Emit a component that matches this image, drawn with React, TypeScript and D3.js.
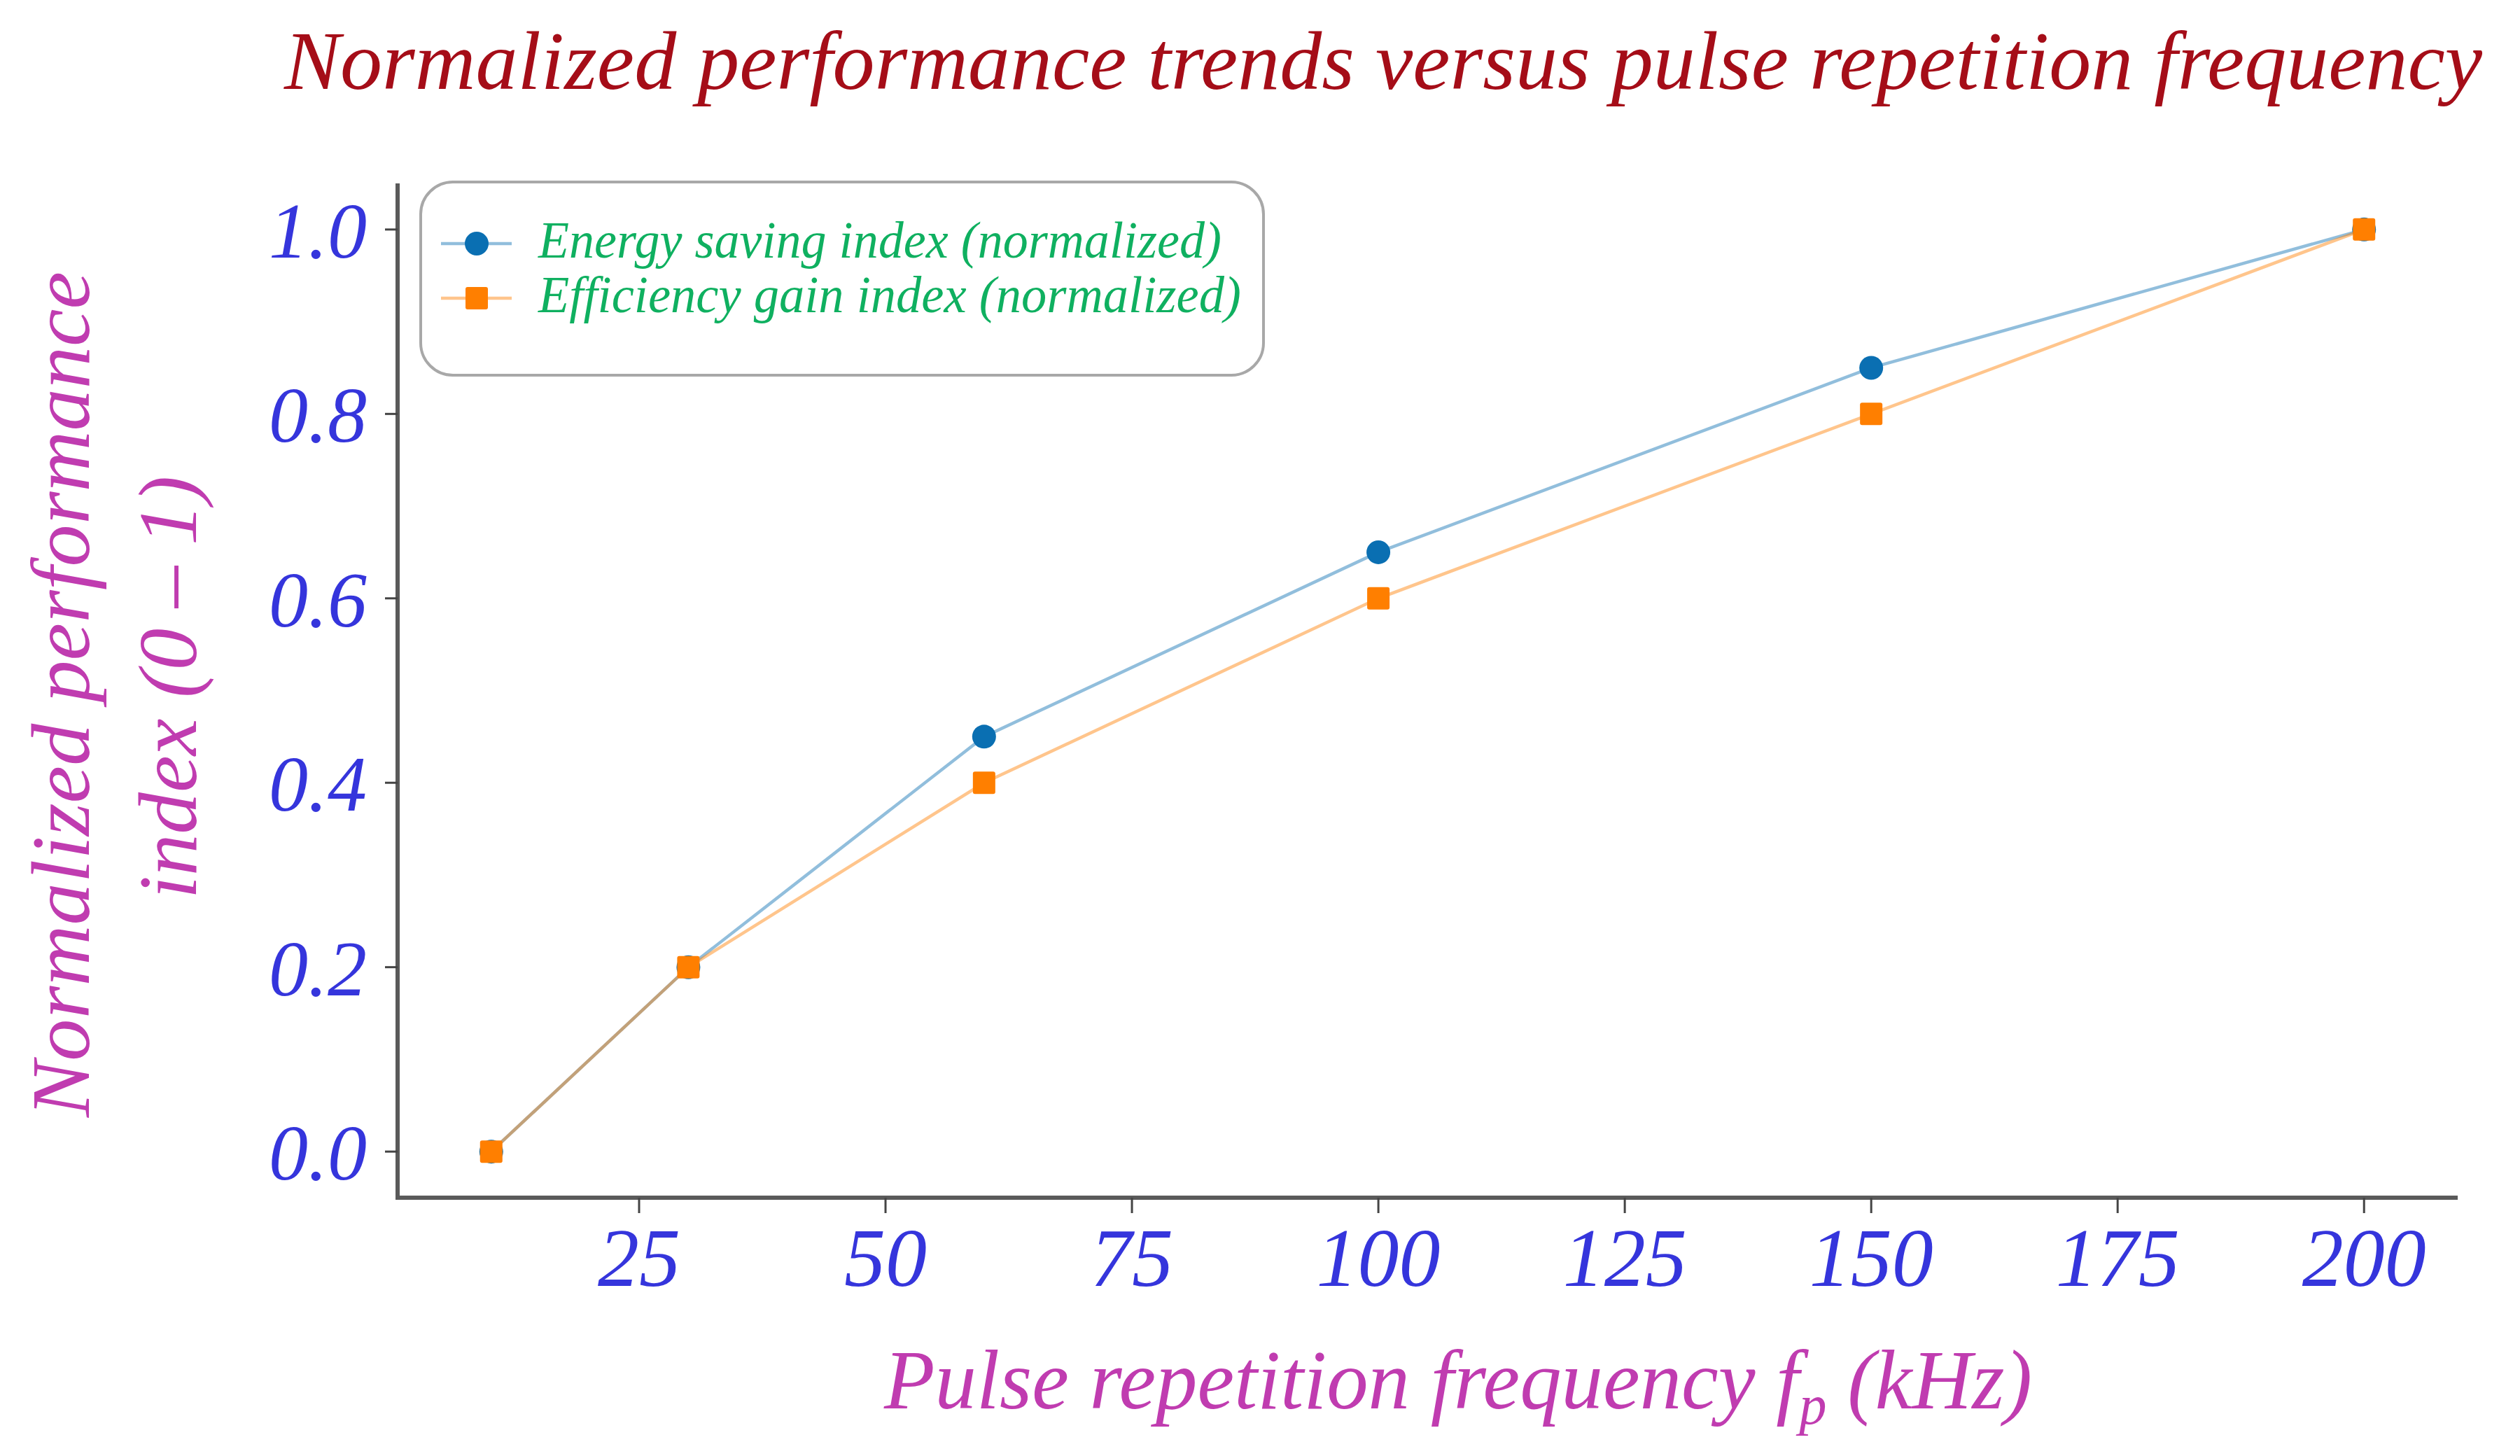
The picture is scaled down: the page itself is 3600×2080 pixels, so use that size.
import React from 'react';
import * as d3 from 'd3';

// chart data
const freqKHz = [10, 30, 60, 100, 150, 200];
const energySaving = [0, 0.2, 0.45, 0.65, 0.85, 1.0];
const efficiencyGain = [0, 0.2, 0.4, 0.6, 0.8, 1.0];
const xTicks = [25, 50, 75, 100, 125, 150, 175, 200];
const yTicks = [0, 0.2, 0.4, 0.6, 0.8, 1.0];
const seriesNames = ['Energy saving index (normalized)', 'Efficiency gain index (normalized)'];

const W = 3600;
const H = 2080;
const serif = '"Liberation Serif", "Times New Roman", "DejaVu Serif", serif';

const blue = '#0a6fb2';
const orange = '#ff7f00';

export default function App() {
  const x = d3.scaleLinear().domain([0.5, 209.5]).range([568, 3511]);
  const y = d3.scaleLinear().domain([-0.05, 1.05]).range([1711, 262]);

  const line = d3
    .line<number>()
    .x((_, i) => x(freqKHz[i]))
    .y(d => y(d));

  const [x0, x1] = x.range();
  const [y0, y1] = y.range();

  return (
    <svg
      width={W}
      height={H}
      viewBox={`0 0 ${W} ${H}`}
      style={{ position: 'absolute', left: 0, top: 0, background: '#fff' }}
    >
      <rect width={W} height={H} fill="#fff" />

      {/* title */}
      <text
        x={406}
        y={127}
        fontFamily={serif}
        fontStyle="italic"
        fontSize={119}
        fill="#a50d18"
        textLength={3140}
        lengthAdjust="spacingAndGlyphs"
      >
        Normalized performance trends versus pulse repetition frequency
      </text>

      {/* spines */}
      <line x1={x0} x2={x0} y1={y1} y2={y0 + 3} stroke="#5a5a5a" strokeWidth={6} />
      <line x1={x0 - 3} x2={x1} y1={y0} y2={y0} stroke="#5a5a5a" strokeWidth={6} />

      {/* y ticks */}
      {yTicks.map(t => (
        <g key={`y${t}`}>
          <line x1={x0 - 18} x2={x0} y1={y(t)} y2={y(t)} stroke="#444" strokeWidth={3} />
          <text
            x={524}
            y={y(t) + 40}
            textAnchor="end"
            fontFamily={serif}
            fontStyle="italic"
            fontSize={112}
            fill="#3535dc"
          >
            {t.toFixed(1)}
          </text>
        </g>
      ))}

      {/* x ticks */}
      {xTicks.map(t => (
        <g key={`x${t}`}>
          <line x1={x(t)} x2={x(t)} y1={y0} y2={y0 + 22} stroke="#444" strokeWidth={3} />
          <text
            x={x(t)}
            y={1837}
            textAnchor="middle"
            fontFamily={serif}
            fontStyle="italic"
            fontSize={118}
            fill="#3535dc"
          >
            {t}
          </text>
        </g>
      ))}

      {/* axis labels */}
      <text
        x={1263}
        y={2012}
        fontFamily={serif}
        fontStyle="italic"
        fontSize={121}
        fill="#c03cb0"
        textLength={1640}
        lengthAdjust="spacingAndGlyphs"
      >
        Pulse repetition frequency{' '}
        <tspan>f</tspan>
        <tspan fontSize={80} dy={22}>p</tspan>
        <tspan dy={-22}> (kHz)</tspan>
      </text>
      <g transform="translate(127,992) rotate(-90)">
        <text
          x={0}
          y={0}
          textAnchor="middle"
          fontFamily={serif}
          fontStyle="italic"
          fontSize={118}
          fill="#c03cb0"
          textLength={1208}
          lengthAdjust="spacingAndGlyphs"
        >
          Normalized performance
        </text>
        <text
          x={10}
          y={153}
          textAnchor="middle"
          fontFamily={serif}
          fontStyle="italic"
          fontSize={118}
          fill="#c03cb0"
          textLength={604}
          lengthAdjust="spacingAndGlyphs"
        >
          index (0 – 1)
        </text>
      </g>

      {/* series */}
      <path d={line(energySaving) || ''} fill="none" stroke={blue} strokeOpacity={0.45} strokeWidth={4.5} />
      {energySaving.map((v, i) => (
        <circle key={`e${i}`} cx={x(freqKHz[i])} cy={y(v)} r={17} fill={blue} />
      ))}
      <path d={line(efficiencyGain) || ''} fill="none" stroke={orange} strokeOpacity={0.45} strokeWidth={4.5} />
      {efficiencyGain.map((v, i) => (
        <rect
          key={`g${i}`}
          x={x(freqKHz[i]) - 16}
          y={y(v) - 16}
          width={32}
          height={32}
          rx={3}
          fill={orange}
        />
      ))}

      {/* legend */}
      <rect x={601} y={260} width={1204} height={276} rx={46} fill="#fff" stroke="#a8a8a8" strokeWidth={4} />
      <line x1={630} x2={731} y1={348} y2={348} stroke={blue} strokeOpacity={0.45} strokeWidth={4.5} />
      <circle cx={681} cy={348} r={17} fill={blue} />
      <line x1={630} x2={731} y1={426} y2={426} stroke={orange} strokeOpacity={0.45} strokeWidth={4.5} />
      <rect x={665} y={410} width={32} height={32} rx={3} fill={orange} />
      <text
        x={769}
        y={368}
        fontFamily={serif}
        fontStyle="italic"
        fontSize={74}
        fill="#0fb060"
        textLength={976}
        lengthAdjust="spacingAndGlyphs"
      >
        {seriesNames[0]}
      </text>
      <text
        x={769}
        y={446}
        fontFamily={serif}
        fontStyle="italic"
        fontSize={74}
        fill="#0fb060"
        textLength={1004}
        lengthAdjust="spacingAndGlyphs"
      >
        {seriesNames[1]}
      </text>
    </svg>
  );
}
